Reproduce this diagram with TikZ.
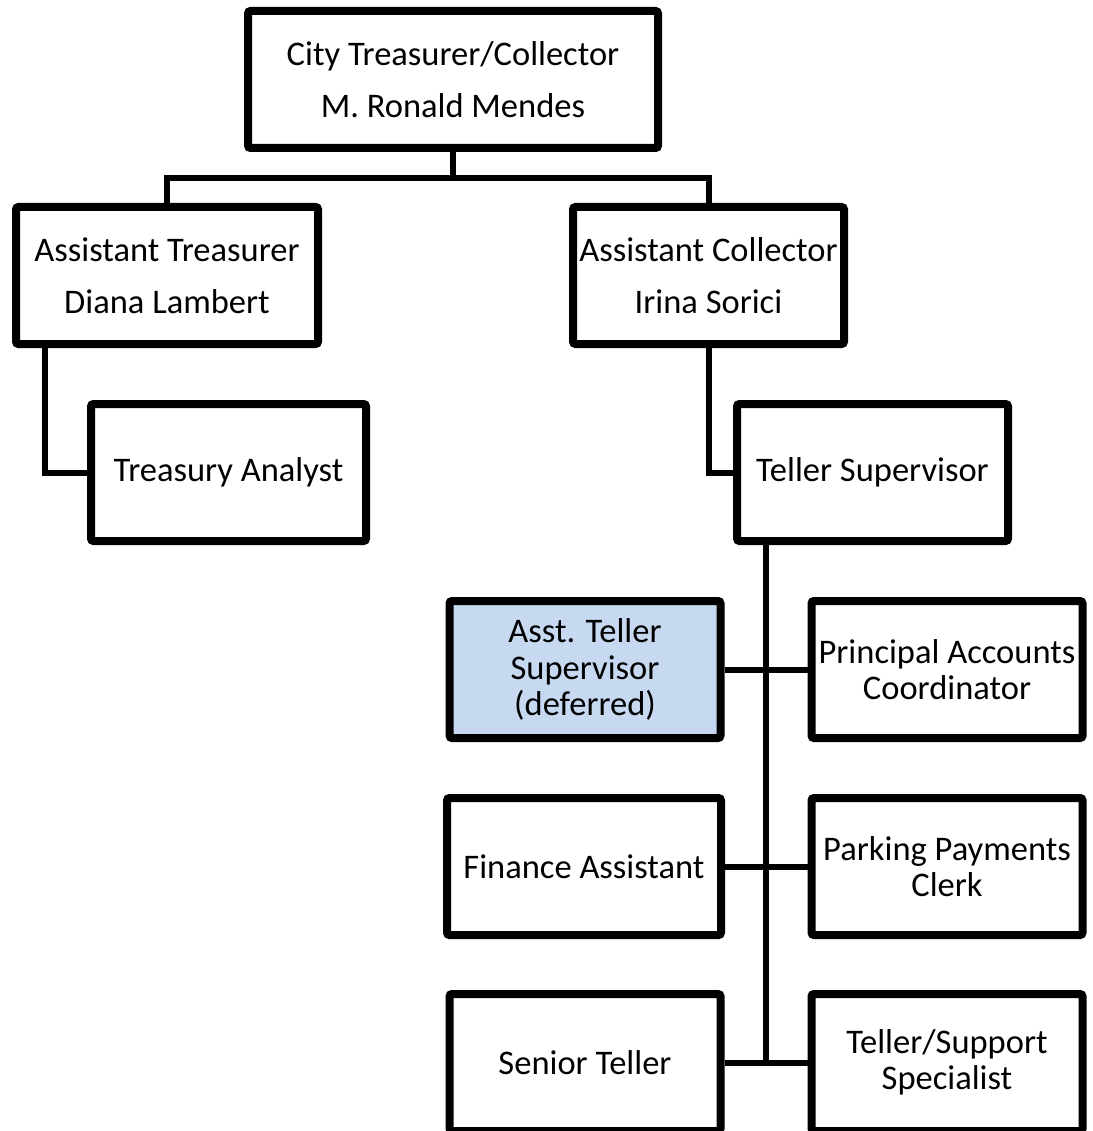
\documentclass[tikz,border=0pt]{standalone}
\usepackage{fontspec}
\setmainfont{Carlito}
\usetikzlibrary{shadows}
\definecolor{deferblue}{RGB}{198,217,241}
\begin{document}
\begin{tikzpicture}[x=1pt,y=-1pt,
  box/.style={draw=black, line width=8pt, fill=white, rounded corners=2.5pt,
    align=center, inner sep=0pt, minimum height=137pt,
    font=\fontsize{34.5}{36.5}\selectfont,
    drop shadow={shadow xshift=2.5pt, shadow yshift=-3pt, opacity=0.3, fill=black}},
  conn/.style={line width=6pt}]
\fill[white] (0,0) rectangle (1092,1131);
\useasboundingbox (0,0) rectangle (1092,1131);

\node[box, minimum width=410pt] (top) at (453,79.5) {City Treasurer/Collector\\[15.5pt]M. Ronald Mendes};
\node[box, minimum width=302pt] (at) at (167,275.5) {Assistant Treasurer\\[15.5pt]Diana Lambert};
\node[box, minimum width=271pt] (ac) at (708.5,275.5) {Assistant Collector\\[15.5pt]Irina Sorici};
\node[box, minimum width=275pt] (ta) at (228.5,472.5) {Treasury Analyst};
\node[box, minimum width=271pt] (ts) at (872.5,472.5) {Teller Supervisor};
\node[box, minimum width=271pt, fill=deferblue] (ats) at (585,669.5) {Asst. Teller\\Supervisor\\(deferred)};
\node[box, minimum width=271pt] (pac) at (947,669.5) {Principal Accounts\\Coordinator};
\node[box, minimum width=274pt] (fa) at (584,866.5) {Finance Assistant};
\node[box, minimum width=271pt] (ppc) at (947,866.5) {Parking Payments\\Clerk};
\node[box, minimum width=271pt] (st) at (585,1062.5) {Senior Teller};
\node[box, minimum width=271pt] (tss) at (947,1062.5) {Teller/Support\\Specialist};

\coordinate (bus) at (453,178);
\coordinate (atx) at (45,0);
\coordinate (trx) at (766,0);

\draw[conn] (top.south) -- (bus);
\draw[conn] (at.north) |- (bus) -| (ac.north);
\draw[conn] (at.south -| atx) |- (ta.west);
\draw[conn] (ac.south) |- (ts.west);
\draw[conn] (ts.south -| trx) -- (st.east -| trx);
\draw[conn] (ats.east) -- (pac.west);
\draw[conn] (fa.east) -- (ppc.west);
\draw[conn] (st.east) -- (tss.west);
\end{tikzpicture}
\end{document}
